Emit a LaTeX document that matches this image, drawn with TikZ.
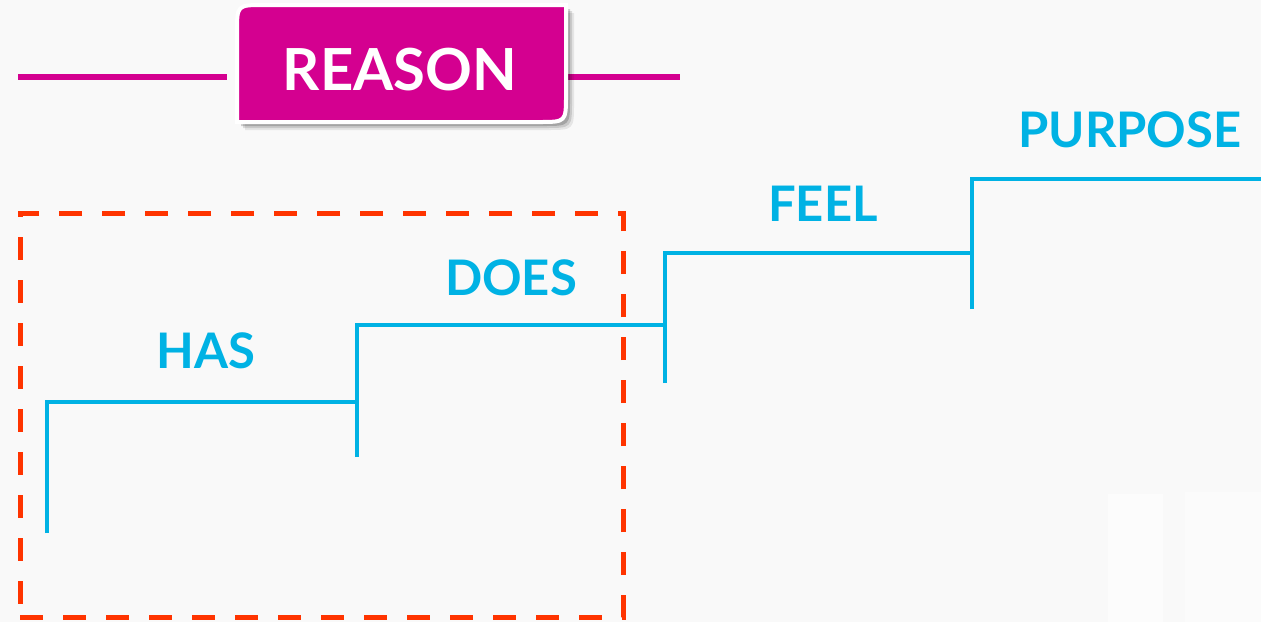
\documentclass[tikz,border=0pt]{standalone}
\usepackage{fontspec}
\setmainfont{Lato}
\definecolor{bg}{RGB}{249,249,249}
\definecolor{mag}{RGB}{212,0,144}
\definecolor{sky}{RGB}{0,178,228}
\definecolor{redd}{RGB}{255,52,0}
\tikzset{
  stepline/.style={draw=sky,line width=4.5pt},
  lbl/.style={text=sky,font=\bfseries\fontsize{49}{49}\selectfont,anchor=base,inner sep=0pt},
  frame/.style={draw=redd,line width=5pt,dash pattern=on 23pt off 20pt},
}
\begin{document}
\begin{tikzpicture}[x=1pt,y=-1pt]
\useasboundingbox (0,0) rectangle (1261,622);
\fill[bg] (0,0) rectangle (1261,622);
% faint panels
\fill[white,opacity=0.6] (1108,494) rectangle (1163,622);
\fill[white,opacity=0.4] (1185,492) rectangle (1261,622);
% magenta line
\draw[mag,line width=5.5pt] (18,77) -- (227,77);
\draw[mag,line width=5.5pt] (567,77) -- (680,77);
% shadow
\foreach \s/\o in {8/0.08,6/0.12,4/0.18}{
\fill[black,opacity=\o] (237+\s,122+\s) -- (237+\s,32+\s) .. controls (237+\s,5+\s) .. (264+\s,5+\s) -- (566+\s,5+\s) -- (566+\s,95+\s) .. controls (566+\s,122+\s) .. (539+\s,122+\s) -- cycle;
}
% box
\draw[white,line width=4pt,fill=mag] (237,122) -- (237,32) .. controls (237,5) .. (264,5) -- (566,5) -- (566,95) .. controls (566,122) .. (539,122) -- cycle;
\node[text=white,font=\bfseries\fontsize{58}{58}\selectfont,anchor=base,inner sep=0pt] (reason) at (400,90) {REASON};
% dashed frame
\node[frame,minimum width=603pt,minimum height=404pt,inner sep=0pt] (frame) at (321.5,415) {};
% step lines
\coordinate (a0) at (47,533);
\coordinate (a1) at (47,402);
\coordinate (b0) at (357,457);
\coordinate (b1) at (357,325);
\coordinate (c0) at (665,383);
\coordinate (c1) at (665,253);
\coordinate (d0) at (972,309);
\coordinate (d1) at (972,179);
\coordinate (e1) at (1263,179);
\draw[stepline] (a0) -- (a1) -- (a1 -| b0);
\draw[stepline] (b0) -- (b1) -- (b1 -| c0);
\draw[stepline] (c0) -- (c1) -- (c1 -| d0);
\draw[stepline] (d0) -- (d1) -- (e1);
% labels
\node[lbl] (has) at (206,368) {HAS};
\node[lbl] (does) at (511,295) {DOES};
\node[lbl] (feel) at (823,221) {FEEL};
\node[lbl] (purpose) at (1130,147) {PURPOSE};
\end{tikzpicture}
\end{document}
